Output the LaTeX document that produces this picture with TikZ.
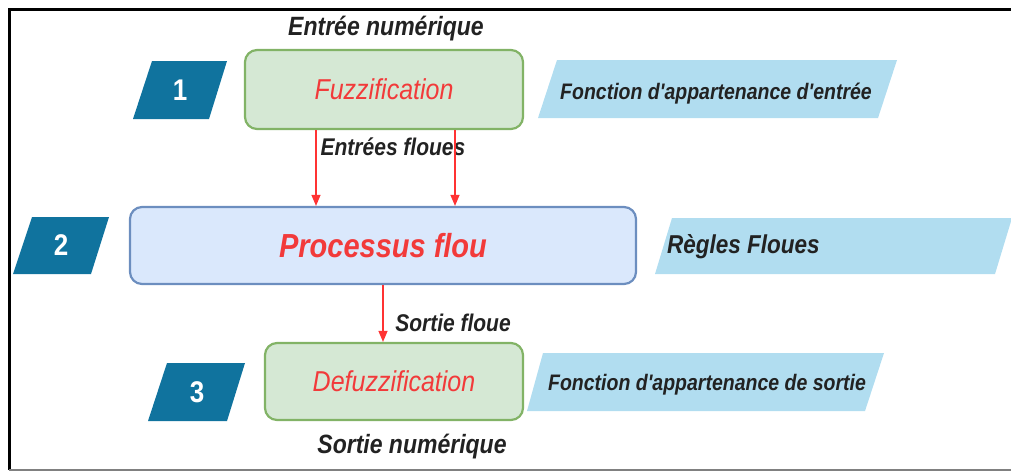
\documentclass[tikz,border=0pt]{standalone}
\usepackage{fontspec}
\setmainfont{Liberation Sans}
\usetikzlibrary{arrows.meta}
\definecolor{dblue}{HTML}{10739E}
\definecolor{lblue}{HTML}{B1DDF0}
\definecolor{gfill}{HTML}{D5E8D4}
\definecolor{gdraw}{HTML}{82B366}
\definecolor{bfill}{HTML}{DAE8FC}
\definecolor{bdraw}{HTML}{6C8EBF}
\definecolor{tred}{HTML}{F23A3A}
\definecolor{ared}{HTML}{FF3333}
\definecolor{tdark}{HTML}{222222}
\newcommand{\vst}[1]{\scalebox{1}[1.15]{#1}}
\newcommand{\fsz}[1]{\fontsize{#1}{#1}\selectfont}
\begin{document}
\begin{tikzpicture}[x=1pt,y=-1pt,
  box/.style={rounded corners=12pt, line width=2.2pt, inner sep=0pt},
  gbox/.style={box, draw=gdraw, fill=gfill},
  bbox/.style={box, draw=bdraw, fill=bfill},
  numtxt/.style={text=white, inner sep=0pt},
  lbl/.style={text=tdark, inner sep=0pt},
  arr/.style={draw=ared, line width=1.2pt, -{Triangle[length=11pt,width=9pt]}},
  para/.style={fill=dblue},
  lpara/.style={fill=lblue}
]
\useasboundingbox (0,0) rectangle (1011,472);
% frame
\draw[line width=3pt] (9,470) -- (9,9) -- (1011,9);
\draw[gray, line width=2pt] (9,470) -- (1011,470);

% main boxes
\node[gbox, minimum width=278pt, minimum height=79pt] (fuzz) at (384,89.5)
  {\vst{\fsz{25}\itshape\color{tred}Fuzzification}};
\node[bbox, minimum width=506pt, minimum height=77pt] (proc) at (383,245.5)
  {\vst{\fsz{29}\bfseries\itshape\color{tred}Processus flou}};
\node[gbox, minimum width=258pt, minimum height=77pt] (defuzz) at (394,381.5)
  {\vst{\fsz{25}\itshape\color{tred}Defuzzification}};

% dark blue number parallelograms
\fill[para] (152,61) -- (227,61) -- (209,119) -- (133,119) -- cycle;
\node[numtxt] (n1) at (180,90) {\vst{\fsz{26}\bfseries 1}};
\fill[para] (32,217) -- (109,217) -- (91,274) -- (13,274) -- cycle;
\node[numtxt] (n2) at (61,245.5) {\vst{\fsz{26}\bfseries 2}};
\fill[para] (167,363) -- (245,363) -- (227,421) -- (148,421) -- cycle;
\node[numtxt] (n3) at (197,392) {\vst{\fsz{26}\bfseries 3}};

% light blue parallelograms
\fill[lpara] (557,60) -- (897,60) -- (878,118) -- (538,118) -- cycle;
\node[lbl] (fa) at (716,94) {\vst{\fsz{19.5}\bfseries\itshape Fonction d\textquotesingle appartenance d\textquotesingle entrée}};
\fill[lpara] (672,218) -- (1012,218) -- (995,274) -- (655,274) -- cycle;
\node[lbl, anchor=west] (rf) at (667,247) {\vst{\fsz{22.5}\bfseries\itshape Règles Floues}};
\fill[lpara] (543,353) -- (884,353) -- (865,411) -- (527,411) -- cycle;
\node[lbl] (fs) at (707,385) {\vst{\fsz{19.5}\bfseries\itshape Fonction d\textquotesingle appartenance de sortie}};

% labels
\node[lbl] (en) at (386,29) {\vst{\fsz{23}\bfseries\itshape Entrée numérique}};
\node[lbl] (ef) at (393,147) {\vst{\fsz{21}\bfseries\itshape Entrées floues}};
\node[lbl] (sf) at (453,323) {\vst{\fsz{21}\bfseries\itshape Sortie floue}};
\node[lbl] (sn) at (412,447) {\vst{\fsz{23}\bfseries\itshape Sortie numérique}};

% arrows
\coordinate (c1) at (316,0);
\coordinate (c2) at (455,0);
\coordinate (c3) at (383,0);
\draw[arr] (c1 |- fuzz.south) -- (c1 |- proc.north);
\draw[arr] (c2 |- fuzz.south) -- (c2 |- proc.north);
\draw[arr] (c3 |- proc.south) -- (c3 |- defuzz.north);
\end{tikzpicture}
\end{document}
